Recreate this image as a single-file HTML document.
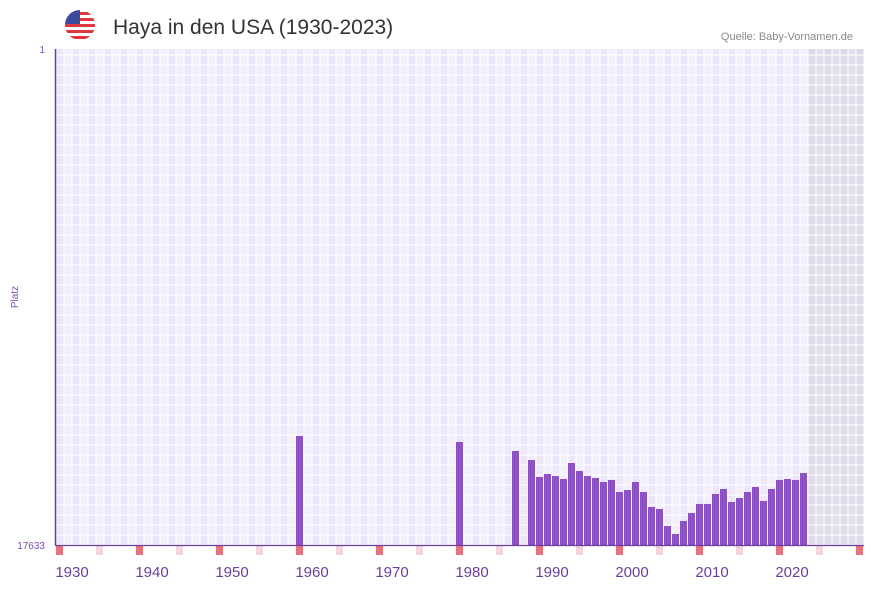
<!DOCTYPE html>
<html><head><meta charset="utf-8"><style>
body{margin:0;background:#fff;font-family:"Liberation Sans",sans-serif;}
</style></head><body>
<svg id="c" width="873" height="587" xmlns="http://www.w3.org/2000/svg">
<g>
<clipPath id="fc"><circle cx="80" cy="25" r="15"/></clipPath>
<g clip-path="url(#fc)">
<rect x="65" y="10" width="30" height="30" fill="#fff"/>
<rect x="65" y="12" width="30" height="3" fill="#e0383e"/>
<rect x="65" y="18" width="30" height="3" fill="#e0383e"/>
<rect x="65" y="24" width="30" height="3" fill="#e0383e"/>
<rect x="65" y="30" width="30" height="3" fill="#e0383e"/>
<rect x="65" y="36" width="30" height="3" fill="#e0383e"/>
<rect x="65" y="10" width="15" height="14" fill="#3a4a9c"/>
</g></g>
<text x="113" y="34" font-size="21" fill="#333">Haya in den USA (1930-2023)</text>
<text x="853" y="40" font-size="11" fill="#888" text-anchor="end">Quelle: Baby-Vornamen.de</text>
<text x="45" y="53" font-size="10" fill="#7a4fb0" text-anchor="end">1</text>
<text x="45" y="549" font-size="10" fill="#7a4fb0" text-anchor="end">17633</text>
<text x="18" y="297" font-size="10" fill="#7a4fb0" text-anchor="middle" transform="rotate(-90 18 297)">Platz</text>
<g id="grid"></g><g id="bars"></g><g id="marks"></g><g id="xl"></g>
<line x1="55.5" y1="49" x2="55.5" y2="545" stroke="#6a3fa0" stroke-width="1.5"/>
<line x1="55" y1="545.5" x2="864" y2="545.5" stroke="#6a3fa0" stroke-width="1.2"/>
</svg>
<script>
const years=[1958,1978,1985,1987,1988,1989,1990,1991,1992,1993,1994,1995,1996,1997,1998,1999,2000,2001,2002,2003,2004,2005,2006,2007,2008,2009,2010,2011,2012,2013,2014,2015,2016,2017,2018,2019,2020,2021];
const ranks=[13758,13971,14291,14611,15215,15108,15179,15286,14718,15002,15179,15250,15393,15321,15748,15677,15393,15748,16281,16352,16957,17241,16779,16494,16174,16174,15819,15641,16103,15961,15748,15570,16068,15641,15321,15286,15321,15072];
const xTicks=[1930,1940,1950,1960,1970,1980,1990,2000,2010,2020];
const NS="http://www.w3.org/2000/svg";
const X0=56,Y0=49,Y1=545,RMIN=1,RMAX=17633;
function xs(y){return X0+(y-1928)*8;}
function ys(r){return Y0+(r-RMIN)/(RMAX-RMIN)*(Y1-Y0);}
function mk(t,a,p){const e=document.createElementNS(NS,t);for(const k in a)e.setAttribute(k,a[k]);p.appendChild(e);return e;}
const grid=document.getElementById('grid');
for(let i=0;i<101;i++){
  const yr=1928+i;
  const r=mk('rect',{x:X0+i*8,y:Y0,width:8,height:Y1-Y0,fill:yr>=2022?(i%2?'#e3deec':'#dfdaea'):(i%2?'#f3effc':'#ece7f8')},grid);
  
  
}
for(let i=0;i<=101;i++){const l=mk('line',{x1:X0+i*8,y1:Y0,x2:X0+i*8,y2:Y1,stroke:'#fff','stroke-width':1},grid);}
for(let y=Y1;y>=Y0;y-=10){const l=mk('line',{x1:X0,y1:y,x2:864,y2:y,stroke:'#fff','stroke-width':1},grid);}
const bars=document.getElementById('bars');
years.forEach((y,i)=>{const t=ys(ranks[i]);const b=mk('rect',{x:xs(y),y:t,width:7,height:Y1-t,fill:'#8c52c6'},bars);

});
const marks=document.getElementById('marks');
for(let y=1928;y<=2028;y+=5){const m=mk('rect',{x:xs(y),y:546,width:7,height:9,fill:(y%10==8)?'#e8737a':'#f5d5df'},marks);

}
const xl=document.getElementById('xl');
xTicks.forEach(y=>{const t=mk('text',{x:xs(y),y:577,'font-size':15,fill:'#6a3fa0','text-anchor':'middle'},xl);t.textContent=y;

});
</script>
</body></html>
